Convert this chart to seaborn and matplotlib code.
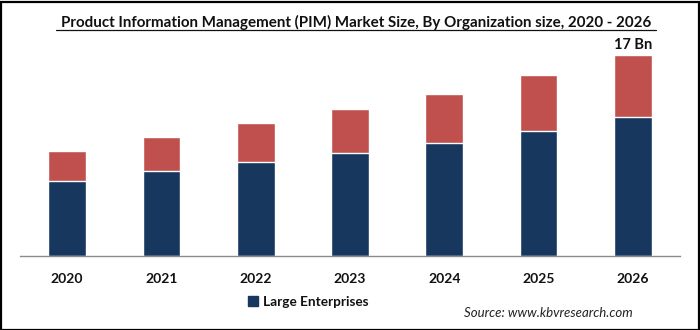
import matplotlib
matplotlib.use("Agg")
import matplotlib.pyplot as plt
from matplotlib.patches import Patch, Rectangle
from matplotlib.ticker import FixedLocator
import numpy as np
import pandas as pd
import seaborn as sns

# Market size in USD billion, split by organization size
years = ["2020", "2021", "2022", "2023", "2024", "2025", "2026"]
large_enterprises = [6.36, 7.15, 7.94, 8.73, 9.57, 10.58, 11.71]
smes = [2.51, 2.90, 3.32, 3.66, 4.11, 4.68, 5.29]
total_label = "17 Bn"

NAVY = "#17375E"
RED = "#C0504D"
AXIS_GREY = "#8C8C8C"

sns.set_theme(style="white")
plt.rcParams["font.family"] = ["Lato", "DejaVu Sans"]

df = pd.DataFrame({
    "year": years,
    "large": large_enterprises,
    "sme": smes,
})
df["total"] = df["large"] + df["sme"]

fig = plt.figure(figsize=(7.0, 3.3), dpi=100)
ax = fig.add_axes([20 / 700, 74 / 330, 660 / 700, 219 / 330])

# stacked bars: the full height first, the large-enterprise share over it
sns.barplot(data=df, x="year", y="total", color=RED, saturation=1,
            width=0.4, ax=ax, order=years)
sns.barplot(data=df, x="year", y="large", color=NAVY, saturation=1,
            width=0.4, ax=ax, order=years)

ax.set_xlim(-0.5, len(years) - 0.5)
ax.set_ylim(0, 18.5)
ax.set_xlabel("")
ax.set_ylabel("")
ax.set_yticks([])
for side in ("left", "right", "top"):
    ax.spines[side].set_visible(False)
ax.spines["bottom"].set_color(AXIS_GREY)
ax.spines["bottom"].set_linewidth(1.0)

ax.tick_params(axis="x", which="major", length=0, pad=12,
               labelsize=10, labelcolor="#111111")
for lbl in ax.get_xticklabels():
    lbl.set_fontweight("bold")
ax.xaxis.set_minor_locator(FixedLocator(np.arange(-0.5, len(years), 1.0)))
ax.tick_params(axis="x", which="minor", length=5, width=1.0,
               color=AXIS_GREY, direction="out")

# value label over the last bar
last = len(years) - 1
ax.text(last, df["total"].iloc[last] + 0.25, total_label, ha="center",
        va="bottom", fontsize=10.5, fontweight="bold", color="#111111")

fig.text(356 / 700, 1 - 22.5 / 330,
         "Product Information Management (PIM) Market Size, By Organization size, 2020 - 2026",
         ha="center", va="center", fontsize=10.9, fontweight="bold",
         color="#111111")
# underline beneath the title
fig.add_artist(plt.Line2D([56 / 700, 656 / 700], [1 - 29.5 / 330, 1 - 29.5 / 330],
                          transform=fig.transFigure, color="#111111", lw=0.9))

leg = fig.legend(handles=[Patch(facecolor=NAVY, edgecolor=NAVY)],
                 labels=["Large Enterprises"], loc="center left",
                 bbox_to_anchor=(236 / 700, 1 - 302 / 330), frameon=False,
                 handlelength=0.75, handleheight=0.75, handletextpad=0.35,
                 fontsize=9.8)
for t in leg.get_texts():
    t.set_fontweight("bold")
    t.set_color("#111111")

fig.text(633 / 700, 1 - 313 / 330, "Source: www.kbvresearch.com",
         ha="right", va="center", fontsize=9.5, style="italic",
         color="#222222")

# outer frame
fig.add_artist(Rectangle((0.5 / 700, 0.5 / 330), 698 / 700, 328 / 330,
                         transform=fig.transFigure, fill=False,
                         edgecolor="black", lw=1.6))

fig.savefig("out.png", dpi=100)
